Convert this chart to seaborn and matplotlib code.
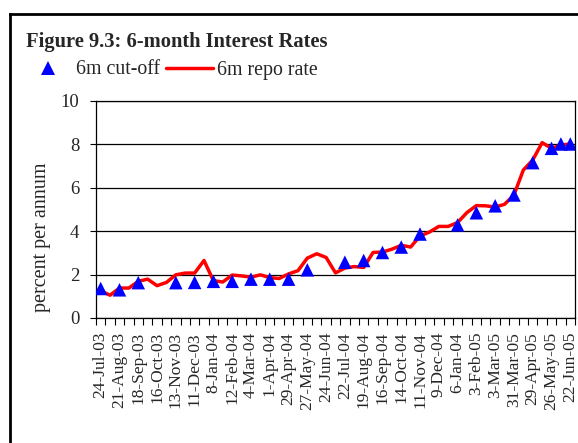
import numpy as np
import pandas as pd
import matplotlib
matplotlib.use("Agg")
import matplotlib.pyplot as plt
import seaborn as sns
from matplotlib.lines import Line2D

# ---- data ----
dates = ["24-Jul-03", "", "21-Aug-03", "", "18-Sep-03", "", "16-Oct-03", "", "13-Nov-03", "",
         "11-Dec-03", "", "8-Jan-04", "", "12-Feb-04", "", "4-Mar-04", "", "1-Apr-04", "",
         "29-Apr-04", "", "27-May-04", "", "24-Jun-04", "", "22-Jul-04", "", "19-Aug-04", "",
         "16-Sep-04", "", "14-Oct-04", "", "11-Nov-04", "", "9-Dec-04", "", "6-Jan-04", "",
         "3-Feb-05", "", "3-Mar-05", "", "31-Mar-05", "", "29-Apr-05", "", "26-May-05", "",
         "22-Jun-05"]

repo_rate = [1.25, 1.05, 1.38, 1.38, 1.69, 1.79, 1.49, 1.64, 1.99, 2.07,
             2.07, 2.65, 1.72, 1.66, 1.98, 1.94, 1.88, 1.99, 1.86, 1.82,
             2.03, 2.18, 2.76, 2.96, 2.79, 2.08, 2.30, 2.37, 2.33, 3.02,
             3.04, 3.17, 3.35, 3.27, 3.78, 3.96, 4.22, 4.22, 4.40, 4.86,
             5.18, 5.17, 5.11, 5.24, 5.67, 6.82, 7.28, 8.08, 7.82, 7.97, 8.02]

nan = np.nan
cut_off = [1.36, nan, 1.30, nan, 1.63, nan, nan, nan, 1.63, nan,
           1.64, nan, 1.69, nan, 1.69, nan, 1.79, nan, 1.79, nan,
           1.79, nan, 2.22, nan, nan, nan, 2.57, nan, 2.65, nan,
           3.02, nan, 3.27, nan, 3.87, nan, nan, nan, 4.29, nan,
           4.85, nan, 5.17, nan, 5.67, nan, 7.16, nan, 7.82, 8.02, 8.02]

y_ticks = [0, 2, 4, 6, 8, 10]

df = pd.DataFrame({"idx": np.arange(len(dates)), "repo": repo_rate, "cut": cut_off})

# ---- style ----
sns.set_theme(style="white")
plt.rcParams["font.family"] = ["Liberation Serif", "DejaVu Serif"]
plt.rcParams["axes.unicode_minus"] = False

W, H = 578, 443
fig = plt.figure(figsize=(W / 100, H / 100), dpi=100)
ax = fig.add_axes([96 / W, 1 - 318 / H, 479 / W, 217 / H])

sns.lineplot(data=df, x="idx", y="repo", color="#ff0000", linewidth=2.5, ax=ax, zorder=3)
sns.scatterplot(data=df.dropna(subset=["cut"]), x="idx", y="cut", marker="^", s=95,
                color="#0000ff", edgecolor="none", linewidth=0, ax=ax, zorder=4)

ax.set_xlim(-0.5, len(dates) - 0.5)
ax.set_ylim(0, 10)
ax.set_yticks(y_ticks)
ax.set_yticklabels([str(t) for t in y_ticks], fontsize=13.5)
for t in y_ticks:
    ax.axhline(t, color="black", linewidth=0.9, zorder=1)

major = [i for i, d in enumerate(dates) if d]
ax.set_xticks(major)
ax.set_xticklabels([dates[i] for i in major], rotation=90, fontsize=12.5)
ax.set_xticks(np.arange(-0.5, len(dates), 1.0), minor=True)
ax.tick_params(axis="x", which="major", length=0, pad=10)
ax.tick_params(axis="x", which="minor", length=5, width=0.8, color="black", direction="out", bottom=True)
ax.tick_params(axis="y", which="major", length=4, width=0.8, color="black", direction="out", left=True, pad=8)
ax.set_xlabel("")
ax.set_ylabel("")
for sp in ax.spines.values():
    sp.set_visible(True)
    sp.set_color("black")
    sp.set_linewidth(0.9)

fig.text(41.7 / W, 1 - 237 / H, "percent per annum", rotation=90, ha="center", va="center",
         fontsize=14.5)

# title
fig.text(26 / W, 1 - 46.5 / H, "Figure 9.3: 6-month Interest Rates", fontsize=14.8,
         fontweight="bold", ha="left", va="baseline")

# outer frame
fig.add_artist(Line2D([10 / W, 10 / W], [0, 1 - 14 / H], color="black", linewidth=2,
                      transform=fig.transFigure, solid_capstyle="projecting"))
fig.add_artist(Line2D([10 / W, 1], [1 - 14 / H, 1 - 14 / H], color="black", linewidth=2,
                      transform=fig.transFigure, solid_capstyle="projecting"))

# legend
handles = [Line2D([], [], marker="^", linestyle="none", color="#0000ff", markersize=10,
                  markeredgewidth=0),
           Line2D([], [], color="#ff0000", linewidth=2.5)]
fig.legend(handles, ["6m cut-off", "6m repo rate"], loc="center left",
           bbox_to_anchor=(24 / W, 1 - 70 / H), ncol=2, frameon=False, fontsize=14.3,
           handlelength=2.4, handletextpad=0.2, columnspacing=0.3, borderpad=0,
           borderaxespad=0)

fig.savefig("out.png", dpi=100)
